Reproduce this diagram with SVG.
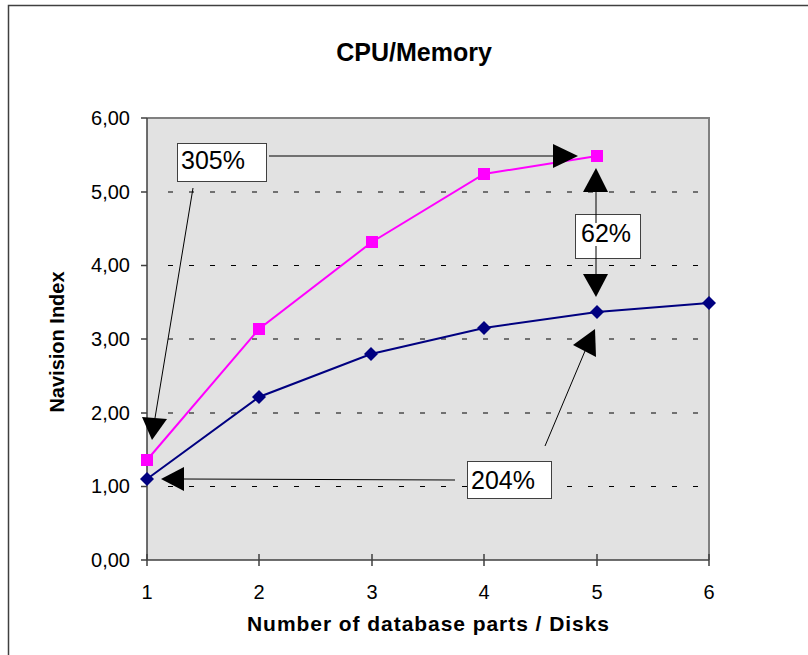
<svg xmlns="http://www.w3.org/2000/svg" width="808" height="655" viewBox="0 0 808 655">
<style>
.t{font-family:"Liberation Sans",Arial,sans-serif;fill:#000}
.tick{font-size:20px}
.grid{stroke:#000;stroke-width:1;stroke-dasharray:5 16}
.ax{stroke:#404040;stroke-width:1.5;fill:none}
.ann{stroke:#000;stroke-width:1;fill:none}
.head{fill:#000}
.box{fill:#fff;stroke:#404040;stroke-width:1}
.lbl{font-size:25px}
</style>
<rect width="808" height="655" fill="#fff"/>
<path d="M8.5 655V5.5H808" stroke="#404040" stroke-width="1.5" fill="none"/>
<text class="t" x="414" y="61" font-size="25" font-weight="bold" text-anchor="middle">CPU/Memory</text>
<g id="plot">
<rect x="147" y="118" width="562" height="442" fill="#e2e2e2"/>
<path d="M147 118H709V560" stroke="#808080" stroke-width="2" fill="none"/>
<g id="gridlines">
<line class="grid" x1="168" y1="192" x2="709" y2="192"/>
<line class="grid" x1="168" y1="265.5" x2="709" y2="265.5"/>
<line class="grid" x1="168" y1="339" x2="709" y2="339"/>
<line class="grid" x1="168" y1="413" x2="709" y2="413"/>
<line class="grid" x1="168" y1="486.5" x2="709" y2="486.5"/>
</g>
<path class="ax" d="M147 118V560H709"/>
<path class="ax" d="M141 118H147M141 192H147M141 265.5H147M141 339H147M141 413H147M141 486.5H147M141 560H147"/>
<path class="ax" d="M147 554V566M259 554V566M372 554V566M484 554V566M597 554V566M709 554V566"/>
</g>
<g id="y-labels" class="t tick" text-anchor="end">
<text x="130" y="125">6,00</text>
<text x="130" y="199">5,00</text>
<text x="130" y="272">4,00</text>
<text x="130" y="346">3,00</text>
<text x="130" y="420">2,00</text>
<text x="130" y="493">1,00</text>
<text x="130" y="567">0,00</text>
</g>
<g id="x-labels" class="t tick" text-anchor="middle">
<text x="147" y="599">1</text>
<text x="259" y="599">2</text>
<text x="372" y="599">3</text>
<text x="484" y="599">4</text>
<text x="597" y="599">5</text>
<text x="709" y="599">6</text>
</g>
<text class="t" x="428" y="631" font-size="21" font-weight="bold" text-anchor="middle" textLength="362">Number of database parts / Disks</text>
<text class="t" x="0" y="0" font-size="20" font-weight="bold" text-anchor="middle" transform="translate(64 342) rotate(-90)">Navision Index</text>
<g id="series-blue">
<polyline points="147,479 259,397 371,354 484,328 597,312 709,303" fill="none" stroke="#000080" stroke-width="2"/>
<g fill="#000080">
<path d="M147 472l7 7-7 7-7-7z"/>
<path d="M259 390l7 7-7 7-7-7z"/>
<path d="M371 347l7 7-7 7-7-7z"/>
<path d="M484 321l7 7-7 7-7-7z"/>
<path d="M597 305l7 7-7 7-7-7z"/>
<path d="M709 296l7 7-7 7-7-7z"/>
</g>
</g>
<g id="series-pink">
<polyline points="147,460 259,329 372,242 484,174 597,156" fill="none" stroke="#ff00ff" stroke-width="2"/>
<g fill="#ff00ff">
<rect x="141" y="454" width="12" height="12"/>
<rect x="253" y="323" width="12" height="12"/>
<rect x="366" y="236" width="12" height="12"/>
<rect x="478" y="168" width="12" height="12"/>
<rect x="591" y="150" width="12" height="12"/>
</g>
</g>
<g id="connectors">
<line class="ann" x1="269" y1="156" x2="554" y2="156"/>
<polygon class="head" points="578,156 553,144 553,168"/>
<line class="ann" x1="193" y1="188" x2="155" y2="418"/>
<polygon class="head" points="152,440 142,417 167,419"/>
<line class="ann" x1="596" y1="191" x2="596" y2="275"/>
<polygon class="head" points="596,168 583,192 608,192"/>
<polygon class="head" points="596,297 583,274 608,274"/>
<line class="ann" x1="183" y1="479" x2="455" y2="480"/>
<polygon class="head" points="161,479 184,467 184,491"/>
<line class="ann" x1="545" y1="446" x2="585" y2="351"/>
<polygon class="head" points="595,329 573,345 596,357"/>
</g>
<g id="label-305">
<rect class="box" x="177.5" y="143.5" width="89" height="38"/>
<text class="t lbl" x="181" y="169">305%</text>
</g>
<g id="label-62">
<rect class="box" x="575.5" y="214.5" width="65" height="44"/>
<line class="ann" x1="596" y1="214" x2="596" y2="259"/>
<rect x="580" y="223" width="55" height="23" fill="#fff"/>
<text class="t lbl" x="581" y="242">62%</text>
</g>
<g id="label-204">
<rect class="box" x="467.5" y="461.5" width="84" height="37"/>
<text class="t lbl" x="471" y="489">204%</text>
</g>
</svg>
